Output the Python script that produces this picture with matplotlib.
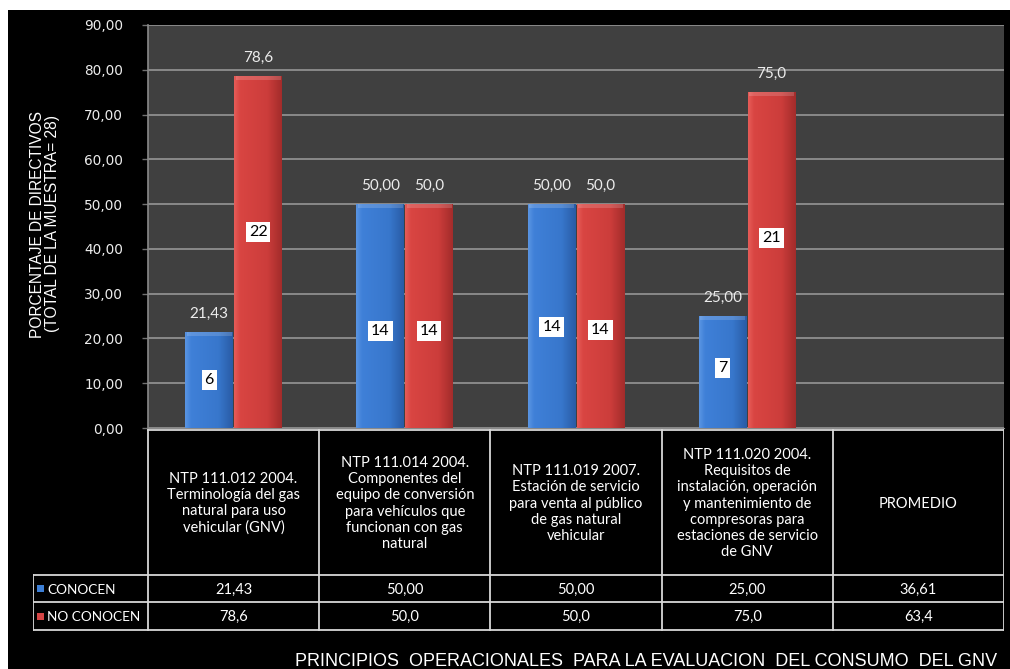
import numpy as np
import matplotlib
matplotlib.use("Agg")
import matplotlib.pyplot as plt
from matplotlib.colors import LinearSegmentedColormap
from matplotlib.ticker import FuncFormatter, MultipleLocator
from matplotlib.patches import Rectangle

# ---------------- data ----------------
categories = [
    "NTP 111.012 2004.\nTerminología del gas\nnatural para uso\nvehicular (GNV)",
    "NTP 111.014 2004.\nComponentes del\nequipo de conversión\npara vehículos que\nfuncionan con gas\nnatural",
    "NTP 111.019 2007.\nEstación de servicio\npara venta al público\nde gas natural\nvehicular",
    "NTP 111.020 2004.\nRequisitos de\ninstalación, operación\ny mantenimiento de\ncompresoras para\nestaciones de servicio\nde GNV",
    "PROMEDIO",
]
series_names = ["CONOCEN", "NO CONOCEN"]
conocen = [21.43, 50.00, 50.00, 25.00]
no_conocen = [78.6, 50.0, 50.0, 75.0]
promedio = [36.61, 63.4]
conocen_counts = [6, 14, 14, 7]
no_conocen_counts = [22, 14, 14, 21]
# vertical positions (in % units) where the count boxes sit
conocen_count_pos = [10.7, 21.7, 22.6, 13.4]
no_conocen_count_pos = [43.8, 21.7, 21.9, 42.4]
y_label = "PORCENTAJE DE DIRECTIVOS\n(TOTAL DE LA MUESTRA= 28)"
x_title = "PRINCIPIOS  OPERACIONALES  PARA LA EVALUACION  DEL CONSUMO  DEL GNV"

W, H = 1010, 669
fig = plt.figure(figsize=(W / 100, H / 100), dpi=100, facecolor="black")

# white border strip on the top and left (as in reference)
fig.patches.append(Rectangle((0, 1 - 10 / H), 1, 10 / H, transform=fig.transFigure,
                             facecolor="white", edgecolor="none", zorder=-5))
fig.patches.append(Rectangle((0, 0), 8 / W, 1, transform=fig.transFigure,
                             facecolor="white", edgecolor="none", zorder=-5))

px_l, px_r, px_t, px_b = 148, 1004, 25, 428
ax = fig.add_axes([px_l / W, 1 - px_b / H, (px_r - px_l) / W, (px_b - px_t) / H])
ax.set_facecolor("#404040")

n_cat = len(categories)
x = np.arange(n_cat)
bw = 0.28
blue_cmap = LinearSegmentedColormap.from_list(
    "b", [(0, "#5a95e2"), (0.12, "#3f80d8"), (0.7, "#3877cc"), (1, "#295ca6")])
red_cmap = LinearSegmentedColormap.from_list(
    "r", [(0, "#e65c58"), (0.12, "#d94542"), (0.7, "#cc3d3b"), (1, "#a32c2b")])

grad = np.linspace(0, 1, 64)[None, :]


def shade(bars, cmap):
    for b in bars:
        x0, y0, w, h = b.get_x(), b.get_y(), b.get_width(), b.get_height()
        im = ax.imshow(grad, extent=[x0, x0 + w, y0, y0 + h], aspect="auto",
                       cmap=cmap, zorder=3, interpolation="bicubic")
        im.set_clip_path(b)
        # top bevel highlight
        ax.add_patch(Rectangle((x0 + w * 0.03, y0 + h - 0.9), w * 0.94, 0.9,
                               facecolor="white", alpha=0.16, edgecolor="none", zorder=4))


bars_c = ax.bar(x[:len(conocen)] - bw / 2 - 0.003, conocen, bw, color="#3b7bd0", zorder=2)
bars_n = ax.bar(x[:len(no_conocen)] + bw / 2 + 0.003, no_conocen, bw, color="#d04040", zorder=2)
shade(bars_c, blue_cmap)
shade(bars_n, red_cmap)

ax.set_xlim(-0.5, n_cat - 0.5)
ax.set_ylim(0, 90)
ax.yaxis.set_major_locator(MultipleLocator(10))
ax.yaxis.set_major_formatter(FuncFormatter(lambda v, p: f"{v:.2f}".replace(".", ",")))
ax.grid(axis="y", color="#8a8a8a", linewidth=1.4, zorder=0)
ax.set_axisbelow(True)
ax.set_xticks([])
ax.tick_params(axis="y", colors="#707070", length=4, width=1, pad=14,
               labelcolor="#ececec", labelsize=9.8)
for s in ["top", "right"]:
    ax.spines[s].set_visible(False)
ax.spines["left"].set_color("#8a8a8a")
ax.spines["bottom"].set_color("#8a8a8a")
ax.spines["left"].set_linewidth(1.2)

lab_font = dict(family="Lato", size=11, color="#ececec")
for b, v in zip(bars_c, conocen):
    ax.annotate(f"{v:.2f}".replace(".", ","), (b.get_x() + b.get_width() / 2, v),
                xytext=(0, 13), textcoords="offset points", ha="center", va="center", **lab_font)
for b, v in zip(bars_n, no_conocen):
    ax.annotate(f"{v:.1f}".replace(".", ","), (b.get_x() + b.get_width() / 2, v),
                xytext=(0, 13), textcoords="offset points", ha="center", va="center", **lab_font)

box = dict(boxstyle="square,pad=0.18", facecolor="white", edgecolor="none")
for b, c, yp in zip(bars_c, conocen_counts, conocen_count_pos):
    ax.text(b.get_x() + b.get_width() / 2, yp, str(c), ha="center", va="center",
            family="Lato", size=11.5, color="black", bbox=box, zorder=6)
for b, c, yp in zip(bars_n, no_conocen_counts, no_conocen_count_pos):
    ax.text(b.get_x() + b.get_width() / 2, yp, str(c), ha="center", va="center",
            family="Lato", size=11.5, color="black", bbox=box, zorder=6)

# ---------------- data table ----------------
t_l, t_t, t_b = 33, 428, 634
unit = (px_r - px_l) / n_cat
left_units = (px_l - t_l) / unit
tax = fig.add_axes([t_l / W, 1 - t_b / H, (px_r - t_l) / W, (t_b - t_t) / H])
tax.set_xlim(-0.5 - left_units, n_cat - 0.5)
tax.set_ylim(t_b, t_t)
tax.axis("off")
tax.patch.set_alpha(0)

row_hdr_top, row_hdr_bot, row1_bot, row2_bot = 430, 575, 602, 630
lc = "#d8d8d8"
lw = 1.3
xl = -0.5 - left_units + 0.002
tax.plot([-0.5, n_cat - 0.5], [row_hdr_top] * 2, color=lc, lw=lw)
for yy in (row_hdr_bot, row1_bot, row2_bot):
    tax.plot([xl, n_cat - 0.5 - 0.002], [yy] * 2, color=lc, lw=lw)
for i in range(n_cat + 1):
    xx = i - 0.5
    if i == n_cat:
        xx -= 0.002
    tax.plot([xx, xx], [row_hdr_top, row2_bot], color=lc, lw=lw)
tax.plot([xl, xl], [row_hdr_bot, row2_bot], color=lc, lw=lw)

tfont = dict(family="Lato", size=10.5, color="white")
for i, cat in enumerate(categories):
    tax.text(i, (row_hdr_top + row_hdr_bot) / 2 + 1, cat, ha="center", va="center",
             linespacing=1.2, **tfont)

c_vals = conocen + [promedio[0]]
n_vals = no_conocen + [promedio[1]]
for i in range(n_cat):
    tax.text(i, (row_hdr_bot + row1_bot) / 2 + 1, f"{c_vals[i]:.2f}".replace(".", ","),
             ha="center", va="center", **tfont)
    tax.text(i, (row1_bot + row2_bot) / 2 + 1, f"{n_vals[i]:.1f}".replace(".", ","),
             ha="center", va="center", **tfont)

mk_w = 7 / unit
leg_font = dict(family="Lato", size=9.8, color="white")
for (yy0, yy1), name, col in zip([(row_hdr_bot, row1_bot), (row1_bot, row2_bot)],
                                 series_names, ["#3d7fd6", "#d44444"]):
    ym = (yy0 + yy1) / 2
    tax.add_patch(Rectangle((xl + 4 / unit, ym - 3.5), mk_w, 7, facecolor=col,
                            edgecolor="none"))
    tax.text(xl + 14 / unit, ym + 1, name, ha="left", va="center", **leg_font)

# ---------------- axis titles ----------------
fig.text(45 / W, 1 - 224 / H, y_label, rotation=90, ha="center", va="center",
         family="Liberation Sans", size=11.2, color="white", multialignment="center",
         linespacing=1.0)
fig.text(646 / W, 1 - 661 / H, x_title, ha="center", va="center",
         family="Liberation Sans", size=13, color="white")

fig.savefig("out.png", dpi=100, facecolor="black")
